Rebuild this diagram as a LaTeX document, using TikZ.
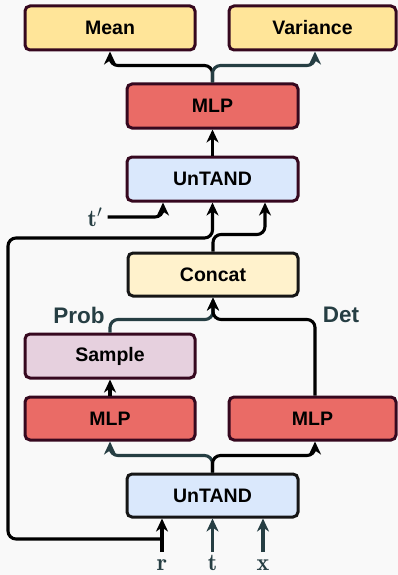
\documentclass[tikz,border=0pt]{standalone}
\usepackage{fontspec}
\newfontfamily\boxfont{Liberation Sans}
\usetikzlibrary{arrows.meta,calc}
\definecolor{bgc}{HTML}{F9F9F9}
\definecolor{maroon}{HTML}{36081F}
\definecolor{darkb}{HTML}{161616}
\definecolor{yel}{HTML}{FFE599}
\definecolor{redb}{HTML}{EA6B66}
\definecolor{blueb}{HTML}{DAE8FC}
\definecolor{concatc}{HTML}{FFF2CC}
\definecolor{samplec}{HTML}{E6D0DE}
\definecolor{slate}{HTML}{263E43}
\tikzset{
  box/.style={draw=maroon, line width=3pt, rounded corners=5pt, minimum height=44pt,
    font=\boxfont\bfseries\fontsize{19.5}{22}\selectfont, text=black, inner sep=0pt},
  arr/.style={line width=3.1pt, -{Stealth[length=13pt,width=12pt,inset=4pt]}, rounded corners=8pt},
  lab/.style={text=slate, inner sep=0pt, font=\fontsize{24}{26}\selectfont},
  sidelab/.style={text=slate, inner sep=0pt, font=\boxfont\bfseries\fontsize{22.5}{25}\selectfont}
}
\begin{document}
\begin{tikzpicture}[x=1pt,y=-1pt]
\fill[bgc] (0,0) rectangle (398,575);
\useasboundingbox (0,0) rectangle (398,575);

% boxes
\node[box, fill=yel, minimum width=170pt] (mean) at (110,28) {Mean};
\node[box, fill=yel, minimum width=167pt] (var) at (312.5,28) {Variance};
\node[box, fill=redb, minimum width=171pt] (mlp2) at (212.5,106) {MLP};
\node[box, fill=blueb, minimum width=171pt] (untand2) at (212.5,179) {UnTAND};
\node[box, fill=concatc, draw=darkb, minimum width=170pt, minimum height=43pt] (concat) at (213,274.5) {Concat};
\node[box, fill=samplec, minimum width=170pt] (sample) at (110,356) {Sample};
\node[box, fill=redb, minimum width=170pt, minimum height=43pt] (mlp1) at (110,418.5) {MLP};
\node[box, fill=redb, minimum width=167pt, minimum height=43pt] (mlp3) at (312.5,418.5) {MLP};
\node[box, fill=blueb, draw=darkb, minimum width=171pt, minimum height=43pt] (untand1) at (212.5,495.5) {UnTAND};

% labels
\node[sidelab] (prob) at (79,315) {Prob};
\node[sidelab] (det) at (341,315) {Det};
\node[lab] (tp) at (95,217) {$\mathbf{t}'$};
\node[lab, anchor=base] (r) at (162,570.5) {$\mathbf{r}$};
\node[lab, anchor=base] (t) at (212.5,570.5) {$\mathbf{t}$};
\node[lab, anchor=base] (xx) at (263,570.5) {$\mathbf{x}$};
\coordinate (inY) at (0,552);
\coordinate (rj) at (162,539);

% connectors top
\draw[arr] (mlp2.north) -- ++(0,-17) -| (mean.south);
\draw[arr, slate] (mlp2.north) -- ++(0,-17) -| ($(var.south)+(2.5,0)$);
\draw[arr] (untand2.north) -- (mlp2.south);

% inputs to upper UnTAND
\draw[arr] ([xshift=5pt]tp.east) -| ($(untand2.south)+(-49.5,0)$);
\draw[arr] (rj) -- (8,539) -- (8,238) -| (untand2.south);
\draw[arr] (concat.north) -- ++(0,-17) -| ($(untand2.south)+(52.5,0)$);

% into concat
\draw[arr, slate] (sample.north) -- ++(0,-13) -| (concat.south);
\draw[arr] ($(mlp3.north)+(2.5,0)$) -- ++(0,-76) -| (concat.south);
\draw[arr] (mlp1.north) -- (sample.south);

% lower UnTAND to MLPs
\draw[arr, slate] (untand1.north) -- ++(0,-17) -| (mlp1.south);
\draw[arr] (untand1.north) -- ++(0,-17) -| ($(mlp3.south)+(2.5,0)$);

% inputs
\draw[arr] (r |- inY) -- (r |- untand1.south);
\draw[arr, slate] (t |- inY) -- (t |- untand1.south);
\draw[arr, slate] (xx |- inY) -- (xx |- untand1.south);
\end{tikzpicture}
\end{document}
